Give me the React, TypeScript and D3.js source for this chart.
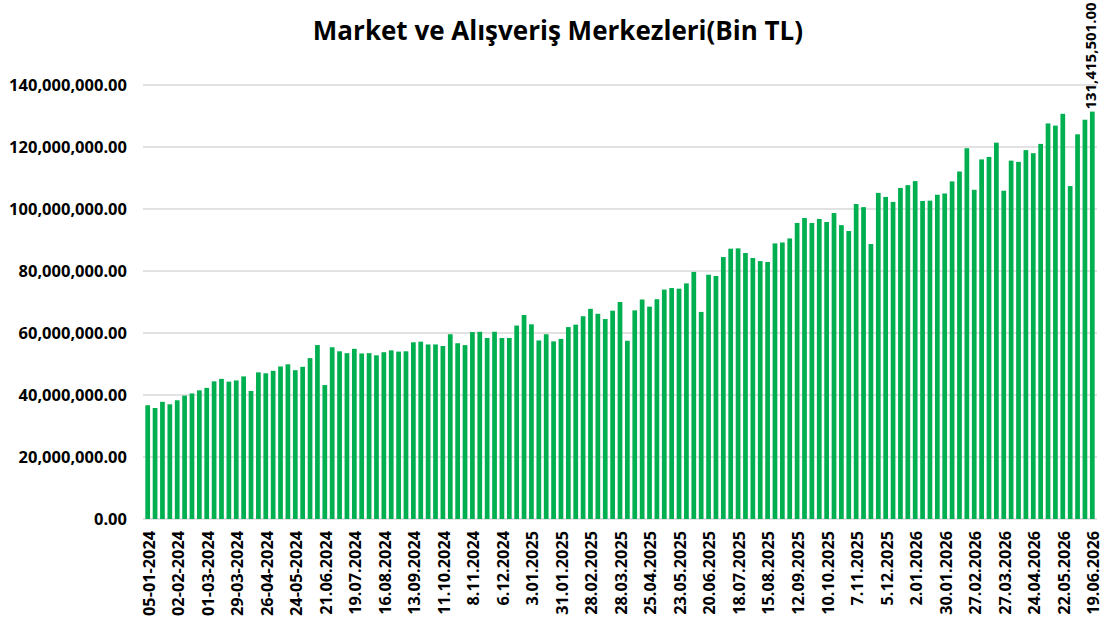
import React from "react";
import * as d3 from "d3";

const title = "Market ve Alışveriş Merkezleri(Bin TL)";

// weekly values, read in millions and scaled to full numbers
const values: number[] = [
  36.7, 35.8, 37.8, 37.0, 38.3, 39.8, 40.5, 41.5, 42.3, 44.4,
  45.2, 44.3, 44.7, 46.0, 41.3, 47.3, 47.0, 47.8, 49.2, 49.9,
  48.0, 49.1, 51.9, 56.1, 43.2, 55.4, 54.1, 53.5, 54.9, 53.4,
  53.5, 52.8, 53.8, 54.4, 54.0, 54.1, 57.0, 57.2, 56.3, 56.3,
  55.8, 59.6, 56.7, 56.1, 60.3, 60.4, 58.4, 60.4, 58.4, 58.4,
  62.4, 65.8, 62.8, 57.6, 59.6, 57.3, 58.1, 61.9, 62.7, 65.4,
  67.8, 66.2, 64.5, 67.2, 70.0, 57.5, 67.3, 70.8, 68.5, 70.9,
  74.0, 74.5, 74.3, 76.0, 79.7, 66.8, 78.8, 78.4, 84.5, 87.2,
  87.3, 85.8, 84.2, 83.2, 82.9, 88.9, 89.2, 90.5, 95.5, 97.1,
  95.5, 96.8, 95.8, 98.7, 94.8, 92.9, 101.6, 100.6, 88.7, 105.2,
  103.9, 102.3, 106.8, 107.7, 109.0, 102.6, 102.7, 104.6, 105.0, 108.9,
  112.1, 119.6, 106.2, 116.0, 116.8, 121.4, 105.9, 115.6, 115.2, 119.0,
  118.0, 121.0, 127.6, 126.9, 130.7, 107.4, 124.1, 128.8, 131.415501,
].map((v) => v * 1e6);

// tick labels shown every 4th week (index = position in values)
const tickLabels: string[] = [
  "05-01-2024", "02-02-2024", "01-03-2024", "29-03-2024", "26-04-2024",
  "24-05-2024", "21.06.2024", "19.07.2024", "16.08.2024", "13.09.2024",
  "11.10.2024", "8.11.2024", "6.12.2024", "3.01.2025", "31.01.2025",
  "28.02.2025", "28.03.2025", "25.04.2025", "23.05.2025", "20.06.2025",
  "18.07.2025", "15.08.2025", "12.09.2025", "10.10.2025", "7.11.2025",
  "5.12.2025", "2.01.2026", "30.01.2026", "27.02.2026", "27.03.2026",
  "24.04.2026", "22.05.2026", "19.06.2026",
];
const tickStep = 4;
const yTicks: number[] = [0, 20e6, 40e6, 60e6, 80e6, 100e6, 120e6, 140e6];

const W = 1104;
const H = 628;
const FONT = "'Open Sans', sans-serif";
const GREEN = "#00B050";

export default function App() {
  const x = d3
    .scaleBand<number>()
    .domain(values.map((_, i) => i))
    .range([144, 1096])
    .paddingInner(0.36)
    .paddingOuter(0.18);
  const y = d3.scaleLinear().domain([0, 140e6]).range([519, 85]);
  const fmt = d3.format(",.2f");
  const last = values.length - 1;

  return (
    <svg
      width={W}
      height={H}
      style={{ position: "absolute", left: 0, top: 0, background: "#fff" }}
      fontFamily={FONT}
    >
      <rect x={0} y={0} width={W} height={H} fill="#fff" />
      <text
        x={558}
        y={40}
        textAnchor="middle"
        fontSize={26}
        fontWeight="bold"
        fill="#000"
      >
        {title}
      </text>
      {yTicks.map((t) => (
        <g key={t}>
          <line
            x1={143}
            x2={1097}
            y1={y(t)}
            y2={y(t)}
            stroke="#d9d9d9"
            strokeWidth={1.4}
          />
          <text
            x={127}
            y={y(t)}
            dy="0.36em"
            textAnchor="end"
            fontSize={16.5}
            fontWeight="bold"
            fill="#000"
          >
            {fmt(t)}
          </text>
        </g>
      ))}
      {values.map((v, i) => (
        <rect
          key={i}
          x={x(i)}
          y={y(v)}
          width={x.bandwidth()}
          height={y(0) - y(v)}
          fill={GREEN}
        />
      ))}
      {tickLabels.map((lab, k) => {
        const i = k * tickStep;
        const cx = (x(i) as number) + x.bandwidth() / 2 + 1;
        return (
          <text
            key={lab}
            transform={`translate(${cx},531) rotate(-90)`}
            dy="0.36em"
            textAnchor="end"
            fontSize={16.3}
            fontWeight="bold"
            fill="#000"
          >
            {lab}
          </text>
        );
      })}
      <text
        transform={`translate(${(x(last) as number) + x.bandwidth() / 2 - 2},${y(values[last]) - 2}) rotate(-90)`}
        dy="0.36em"
        textAnchor="start"
        fontSize={15}
        fontWeight="bold"
        fill="#000"
      >
        {fmt(values[last])}
      </text>
    </svg>
  );
}
